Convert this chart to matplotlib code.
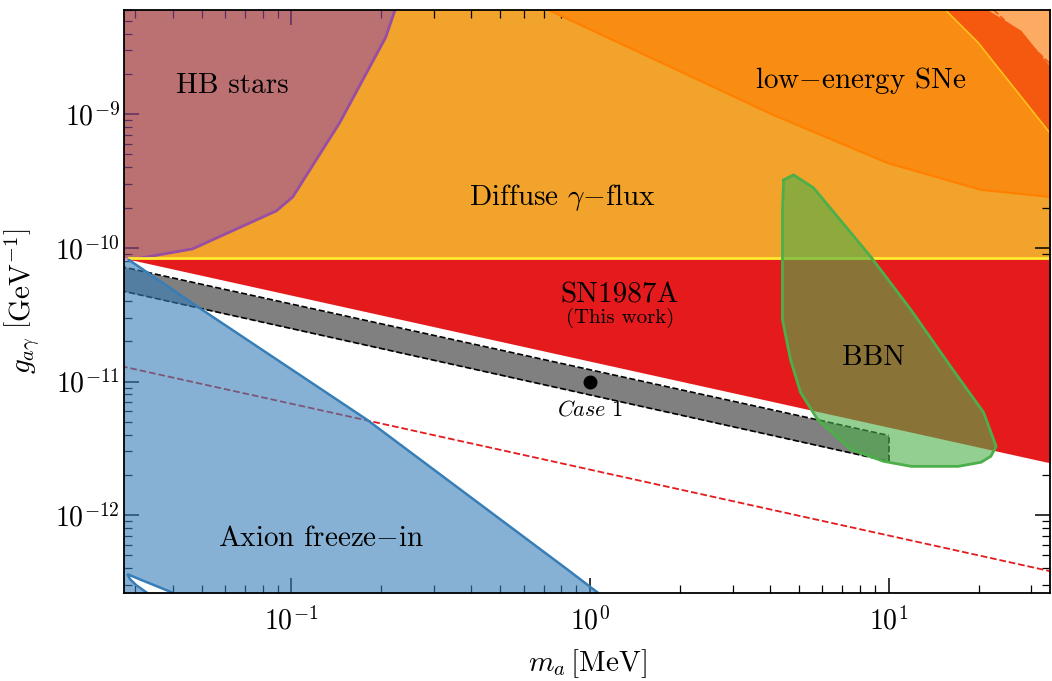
import numpy as np
import matplotlib
matplotlib.use('Agg')
import matplotlib.pyplot as plt

plt.rcParams['font.family'] = 'serif'
plt.rcParams['font.serif'] = ['cmr10']
plt.rcParams['mathtext.fontset'] = 'cm'
plt.rcParams['axes.formatter.use_mathtext'] = True

# -------- data (m_a in MeV, g in GeV^-1) --------
m_min, m_max = 0.0275, 34.7
g_min, g_max = 2.62e-13, 6.0e-9
g_top = 1e-8   # polygons run past the top and get clipped

# Diffuse gamma-flux lower edge (yellow line)
diffuse_g = 8.4e-11

# low-energy SNe lower edge
lesn_m = [0.70, 0.728, 0.792, 4.11, 9.93, 20.4, 36.0]
lesn_g = [g_top, 6.0e-9, 5.48e-9, 9.84e-10, 4.3e-10, 2.71e-10, 2.38e-10]

# darker band and corner in top right
band_m = [15.0, 15.5, 19.9, 36.0]
band_g = [g_top, 6.0e-9, 3.44e-9, 6.5e-10]
corner_m = [21.0, 21.5, 27.7, 36.0]
corner_g = [g_top, 6.0e-9, 4.24e-9, 2.05e-9]
corner_dash_m = [22.5, 36.0]
corner_dash_g = [6.0e-9, 2.2e-9]

# HB stars
hb_m = [0.0286, 0.0466, 0.0891, 0.101, 0.145, 0.207, 0.222, 0.235]
hb_g = [8.1e-11, 9.8e-11, 1.89e-10, 2.4e-10, 8.6e-10, 3.76e-9, 5.97e-9, g_top]

# SN1987A (this work) lower edge
sn_m = [0.0286, 36.0]
sn_g = [8.2e-11, 2.42e-12]

# Case 1 band
case_m = [0.025, 10.0]
case_hi = [7.5e-11, 3.95e-12]
case_lo = [4.95e-11, 2.53e-12]
case_point = (1.0, 1.0e-11)

# red dashed line
dash_m = [0.025, 36.0]
dash_g = [1.35e-11, 3.75e-13]

# Axion freeze-in upper edge
fi_m = [0.025, 0.0286, 0.0502, 0.1786, 0.837, 1.056, 1.2]
fi_g = [8.1e-11, 8.1e-11, 3.44e-11, 5.2e-12, 3.95e-13, 2.66e-13, 2.12e-13]

# small hole in the freeze-in region
hole_m = [0.0282, 0.0309, 0.0396, 0.043, 0.031, 0.0326, 0.0302, 0.0288, 0.0282]
hole_g = [3.63e-13, 3.33e-13, 2.66e-13, 2.4e-13, 2.4e-13, 2.66e-13, 3.0e-13, 3.33e-13, 3.63e-13]

# BBN contour
bbn_m = [4.45, 4.80, 5.60, 8.71, 11.86, 16.15, 20.8, 22.9, 22.0, 20.4, 17.1,
         11.9, 9.62, 7.45, 5.78, 5.07, 4.69, 4.41, 4.41, 4.41, 4.45]
bbn_g = [3.21e-10, 3.51e-10, 2.81e-10, 8.57e-11, 3.45e-11, 1.29e-11, 5.87e-12,
         3.27e-12, 2.76e-12, 2.49e-12, 2.32e-12, 2.32e-12, 2.53e-12, 3.11e-12,
         5.2e-12, 8.28e-12, 1.46e-11, 2.9e-11, 8.1e-11, 1.92e-10, 3.21e-10]

# -------- plot --------
fig = plt.figure(figsize=(10.52, 6.81), dpi=100)
ax = fig.add_axes([0.1179, 0.1292, 0.8802, 0.8561])

# Diffuse gamma-flux
ax.fill_between([0.02, 40], diffuse_g, g_top, color='#f1a32b', lw=0, zorder=1)

# low-energy SNe
ax.fill_between(lesn_m, lesn_g, g_top, color='#f98c12', lw=0, zorder=2)
ax.plot(lesn_m, lesn_g, color='#ff8000', lw=1.5, zorder=2)
ax.fill_between(band_m, band_g, g_top, color='#f4590f', lw=0, zorder=3)
ax.plot(band_m, band_g, color='#ffc21a', lw=1.2, zorder=3)
ax.fill_between(corner_m, corner_g, g_top, color='#fdab63', lw=0, zorder=3)
ax.plot(corner_dash_m, corner_dash_g, color='#f4590f', lw=1.2, ls='--', zorder=3)

# HB stars
ax.fill(hb_m + [0.02, 0.02], hb_g + [g_top, hb_g[0]],
        color='#984ea3', alpha=0.6, lw=0, zorder=4)
ax.plot(hb_m, hb_g, color='#984ea3', lw=2, zorder=4)

# SN1987A
ax.fill_between(sn_m, sn_g, diffuse_g, color='#e41a1c', lw=0, zorder=5)
ax.plot([hb_m[0], 40], [diffuse_g, diffuse_g], color='#ffec30', lw=2, zorder=5)

# Case 1 band
ax.fill_between(case_m, case_lo, case_hi, color='0.5', lw=0, zorder=6)
ax.plot(case_m, case_hi, 'k--', lw=1.2, zorder=6)
ax.plot(case_m, case_lo, 'k--', lw=1.2, zorder=6)
ax.plot([case_m[1], case_m[1]], [case_lo[1], case_hi[1]], 'k--', lw=1.2, zorder=6)

ax.plot(dash_m, dash_g, color='#e41a1c', lw=1.3, ls='--', zorder=6)

# Axion freeze-in
ax.fill_between(fi_m, 1e-13, fi_g, color='#377eb8', alpha=0.6, lw=0, zorder=7)
ax.plot(fi_m[1:], fi_g[1:], color='#377eb8', lw=1.8, zorder=7)
ax.fill(hole_m, hole_g, facecolor='white', edgecolor='#377eb8', lw=1.8, zorder=7)

# BBN
ax.fill(bbn_m, bbn_g, facecolor='#4daf4a', alpha=0.6, lw=0, zorder=8)
ax.plot(bbn_m, bbn_g, color='#4daf4a', lw=2, zorder=8)

ax.plot(*case_point, 'ko', ms=9, zorder=9)

# labels
ax.text(0.0634, 1.62e-9, 'HB stars', fontsize=21, ha='center', va='center', zorder=10)
ax.text(8.05, 1.79e-9, r'low$-$energy SNe', fontsize=21, ha='center', va='center', zorder=10)
ax.text(0.805, 2.36e-10, r'Diffuse $\gamma$$-$flux', fontsize=21, ha='center', va='center', zorder=10)
ax.text(1.26, 4.38e-11, 'SN1987A', fontsize=21, ha='center', va='center', zorder=10)
ax.text(1.26, 3.0e-11, '(This work)', fontsize=15, ha='center', va='center', zorder=10)
ax.text(8.9, 1.51e-11, 'BBN', fontsize=21, ha='center', va='center', zorder=10)
ax.text(1.0, 6.18e-12, r'$\mathit{Case\ 1}$', fontsize=16, ha='center', va='center', zorder=10)
ax.text(0.126, 6.62e-13, r'Axion freeze$-$in', fontsize=21, ha='center', va='center', zorder=10)

ax.set_xscale('log')
ax.set_yscale('log')
ax.set_xlim(m_min, m_max)
ax.set_ylim(g_min, g_max)

ax.set_xlabel(r'$m_a\,[\mathrm{MeV}]$', fontsize=21, labelpad=8)
ax.set_ylabel(r'$g_{a\gamma}\ \left[\mathrm{GeV}^{-1}\right]$', fontsize=21, labelpad=9)

ax.tick_params(which='both', direction='in', top=True, right=True, labelsize=20)
ax.tick_params(which='major', length=11, width=1.1)
ax.tick_params(axis='x', which='major', pad=10)
ax.tick_params(axis='y', which='major', pad=3)
ax.tick_params(which='minor', length=6, width=0.9)
for s in ax.spines.values():
    s.set_linewidth(1.3)
    s.set_zorder(20)

plt.savefig('out.png', dpi=100)
